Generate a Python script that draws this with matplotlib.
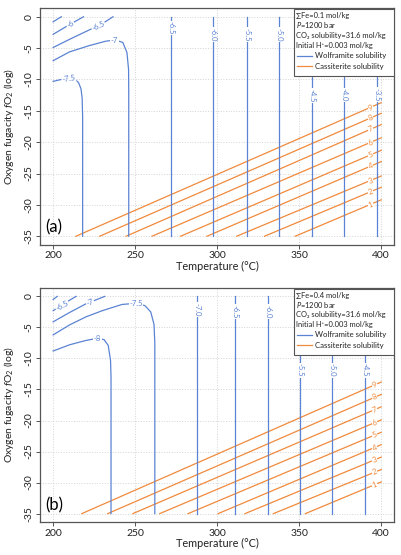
import numpy as np
import matplotlib.pyplot as plt
from matplotlib.lines import Line2D
from matplotlib.patches import Rectangle

plt.rcParams['font.family'] = ['Lato', 'DejaVu Sans']
plt.rcParams['mathtext.fontset'] = 'custom'
plt.rcParams['mathtext.rm'] = 'Lato'
plt.rcParams['mathtext.it'] = 'Lato:italic'
plt.rcParams['mathtext.bf'] = 'Lato:bold'
plt.rcParams['axes.unicode_minus'] = False

BLUE = '#5b83d3'
ORANGE = '#f08a3c'

# axis ticks
temp_ticks = [200, 250, 300, 350, 400]
fo2_ticks = [0, -5, -10, -15, -20, -25, -30, -35]

# ---- panel (a): sum Fe = 0.1 mol/kg ----
# wolframite contours, curved branches (temperature, log fO2)
wa_75_t = [200, 205, 210, 213, 215.5, 217, 217.7, 218, 218]
wa_75_f = [-10.3, -10.0, -9.8, -9.9, -10.5, -11.5, -13, -16, -35]
wa_70_t = [200, 210, 222, 232, 238, 242.5, 245, 246, 246.1, 246.1]
wa_70_f = [-7.0, -5.6, -4.6, -3.9, -3.7, -4.1, -5.7, -8.4, -12, -35]
wa_65_t = [200, 210, 218, 230, 236.5]
wa_65_f = [-4.9, -3.6, -2.6, -1.1, 0]
wa_60_t = [200, 209, 218.5]
wa_60_f = [-2.8, -1.4, 0]
wa_55_t = [200, 205]
wa_55_f = [-0.8, 0]
# wolframite contours, vertical branches
wa_vert_labels = ['-6.5', '-6.0', '-5.5', '-5.0', '-4.5', '-4.0', '-3.5']
wa_vert_t = [272.1, 297.6, 318.0, 338.0, 357.8, 377.6, 397.2]
wa_vert_label_f = [-1.8, -2.8, -2.8, -2.8, -12.6, -12.5, -12.4]
# cassiterite contours (levels 1..9): start T at fO2=-35, fO2 at T=400
cs_levels = [1, 2, 3, 4, 5, 6, 7, 8, 9]
ca_t_start = [347.6, 328.9, 311.9, 293.8, 277.7, 260.3, 244.5, 228.4, 213.9]
ca_f_end = [-29.2, -27.2, -25.4, -23.1, -21.3, -19.3, -17.2, -15.4, -13.7]
legend_a = ['\u2211Fe=0.1 mol/kg', '$P$=1200 bar', 'CO\u2082 solubility=31.6 mol/kg',
            'Initial H\u207a=0.003 mol/kg']

# ---- panel (b): sum Fe = 0.4 mol/kg ----
wb_80_t = [200, 210, 220, 226, 231, 233.6, 235, 235.3, 235.3]
wb_80_f = [-8.8, -7.8, -7.1, -6.8, -6.95, -7.9, -10.3, -13, -35]
wb_75_t = [200, 210, 220, 230, 242, 251, 256, 259.5, 261.5, 262, 262]
wb_75_f = [-6.2, -4.6, -3.3, -2.3, -1.3, -1.1, -1.5, -2.5, -4.5, -7.5, -35]
wb_70_t = [200, 210, 220, 231.5]
wb_70_f = [-4.1, -2.6, -1.2, 0]
wb_65_t = [200, 207, 214]
wb_65_f = [-2.3, -1.1, 0]
wb_60_t = [200, 202.5]
wb_60_f = [-0.5, 0]
wb_vert_labels = ['-7.0', '-6.5', '-6.0', '-5.5', '-5.0', '-4.5']
wb_vert_t = [287.8, 310.9, 330.9, 350.3, 370.1, 389.9]
wb_vert_label_f = [-2.1, -2.4, -2.4, -11.9, -11.9, -11.9]
cb_t_start = [353.8, 334.3, 317.0, 300.6, 282.3, 265.0, 248.6, 233.3, 217.5]
cb_f_end = [-29.9, -27.9, -25.9, -23.9, -21.9, -19.9, -17.8, -15.8, -13.8]
legend_b = ['\u2211Fe=0.4 mol/kg', '$P$=1200 bar', 'CO\u2082 solubility=31.6 mol/kg',
            'Initial H\u207a=0.003 mol/kg']


def label(ax, x, y, s, color, rot=0, data_rot=False):
    ax.text(x, y, s, color=color, fontsize=5.5, rotation=rot, ha='center', va='center',
            rotation_mode='anchor', transform_rotates_text=data_rot,
            bbox=dict(fc='white', ec='none', pad=0.4), zorder=4)


def draw_panel(ax, curves, vert_labels, vert_t, vert_label_f,
               cs_t_start, cs_f_end, cs_label_t, legend_text, tag):
    ax.set_xlim(192, 408)
    ax.set_ylim(-36.4, 1.4)
    ax.set_xticks(temp_ticks)
    ax.set_yticks(fo2_ticks)
    for t in temp_ticks:
        ax.axvline(t, color='#d3d3d3', ls=':', lw=0.7, zorder=0)
    for f in fo2_ticks:
        ax.axhline(f, color='#d3d3d3', ls=':', lw=0.7, zorder=0)

    # cassiterite
    for lev, t0, f1 in zip(cs_levels, cs_t_start, cs_f_end):
        ax.plot([t0, 400], [-35, f1], color=ORANGE, lw=0.9, zorder=2)
        fl = np.interp(cs_label_t, [t0, 400], [-35, f1])
        ang = np.degrees(np.arctan2(f1 + 35, 400 - t0))
        label(ax, cs_label_t, fl, str(lev), ORANGE, rot=ang, data_rot=True)

    # wolframite curves
    for t, f, txt, lt, lf, lr in curves:
        ax.plot(t, f, color=BLUE, lw=0.9, zorder=3)
        if txt:
            label(ax, lt, lf, txt, BLUE, rot=lr)
    for txt, t, lf in zip(vert_labels, vert_t, vert_label_f):
        ax.plot([t, t], [0, -35], color=BLUE, lw=0.9, zorder=3)
        label(ax, t, lf, txt, BLUE, rot=270)

    ax.text(195.5, -33.6, tag, fontsize=12, ha='left', va='center', color='black', zorder=5)

    # legend box
    ax.add_patch(Rectangle((0.718, 0.713), 0.282, 0.282, transform=ax.transAxes,
                           fc='white', ec='#555555', lw=0.8, zorder=6))
    ys = [0.967, 0.927, 0.885, 0.843, 0.799, 0.755]
    for y, s in zip(ys[:4], legend_text):
        ax.text(0.7235, y, s, transform=ax.transAxes, fontsize=5.4, va='center',
                ha='left', color='#222222', zorder=7)
    for y, s, c in zip(ys[4:], ['Wolframite solubility', 'Cassiterite solubility'], [BLUE, ORANGE]):
        ax.add_line(Line2D([0.724, 0.767], [y, y], transform=ax.transAxes, color=c, lw=0.9, zorder=7))
        ax.text(0.776, y, s, transform=ax.transAxes, fontsize=5.6, va='center',
                ha='left', color='#222222', zorder=7)

    for sp in ax.spines.values():
        sp.set_color('#555555')
        sp.set_linewidth(0.9)
    ax.tick_params(direction='out', length=3, width=0.7, color='#555555',
                   labelsize=7.5, labelcolor='#222222', pad=1.5)
    for lab in ax.get_yticklabels():
        lab.set_rotation(90)
        lab.set_va('center')
    ax.set_xlabel('Temperature (\u00b0C)', fontsize=7.8, color='#222222')
    ax.set_ylabel('Oxygen fugacity $f$O$_2$ (log)', fontsize=7.5, color='#222222')
    ax.xaxis.set_label_coords(0.5, -0.068)
    ax.yaxis.set_label_coords(-0.067, 0.5)


fig = plt.figure(figsize=(4.02, 5.55), dpi=100)
ax_a = fig.add_axes([40 / 402, 1 - 245 / 555, 354.3 / 402, 237 / 555])
ax_b = fig.add_axes([40 / 402, 1 - 522.3 / 555, 354.3 / 402, 234.6 / 555])

curves_a = [
    (wa_75_t, wa_75_f, '-7.5', 209.5, -9.9, 8),
    (wa_70_t, wa_70_f, '-7', 237.5, -3.75, 0),
    (wa_65_t, wa_65_f, '-6.5', 227.5, -1.45, 25),
    (wa_60_t, wa_60_f, '-6', 210.5, -1.2, 28),
    (wa_55_t, wa_55_f, '', 0, 0, 0),
]
curves_b = [
    (wb_80_t, wb_80_f, '-8', 227, -6.8, 0),
    (wb_75_t, wb_75_f, '-7.5', 250.5, -1.15, 0),
    (wb_70_t, wb_70_f, '-7', 222.5, -0.95, 20),
    (wb_65_t, wb_65_f, '-6.5', 205.5, -1.5, 28),
    (wb_60_t, wb_60_f, '', 0, 0, 0),
]

draw_panel(ax_a, curves_a, wa_vert_labels, wa_vert_t, wa_vert_label_f,
           ca_t_start, ca_f_end, 393.5, legend_a, '(a)')
draw_panel(ax_b, curves_b, wb_vert_labels, wb_vert_t, wb_vert_label_f,
           cb_t_start, cb_f_end, 396, legend_b, '(b)')

fig.savefig('out.png', dpi=100)
